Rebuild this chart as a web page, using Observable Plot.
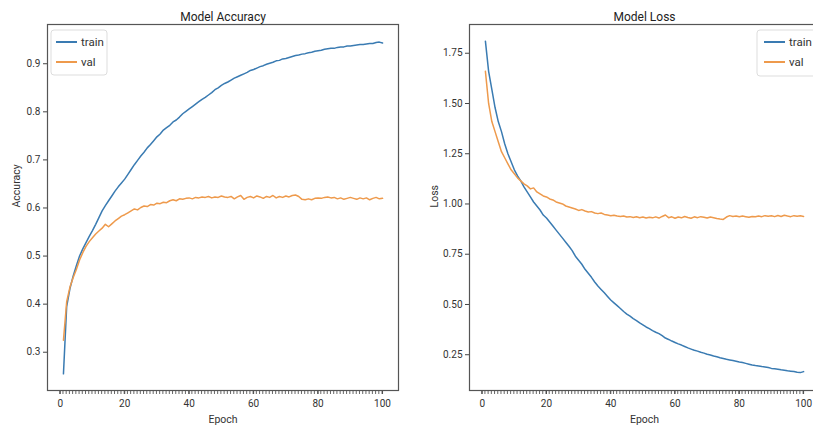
<!DOCTYPE html>
<html>
<head>
<meta charset="utf-8">
<script src="https://cdn.jsdelivr.net/npm/d3@7"></script>
<script src="https://cdn.jsdelivr.net/npm/@observablehq/plot@0.6"></script>
<style>
  html, body { margin: 0; padding: 0; background: #fff; overflow: hidden; }
  #wrap { position: relative; width: 813px; height: 433px; overflow: hidden; }
  #wrap > svg, #wrap > figure { position: absolute; top: 0; margin: 0; }
</style>
</head>
<body>
<div id="wrap"></div>
<script>
const seriesNames = ["train", "val"];
const accTrain = [
  0.255, 0.395, 0.432, 0.458, 0.480, 0.500, 0.515, 0.528, 0.541, 0.553,
  0.566, 0.580, 0.594, 0.605, 0.615, 0.625, 0.635, 0.644, 0.652, 0.660,
  0.670, 0.680, 0.690, 0.699, 0.708, 0.716, 0.725, 0.732, 0.740, 0.748,
  0.754, 0.762, 0.767, 0.772, 0.779, 0.783, 0.789, 0.796, 0.801, 0.806,
  0.811, 0.816, 0.821, 0.826, 0.830, 0.835, 0.840, 0.846, 0.850, 0.855,
  0.859, 0.862, 0.866, 0.870, 0.873, 0.876, 0.879, 0.882, 0.886, 0.888,
  0.891, 0.894, 0.896, 0.899, 0.901, 0.903, 0.906, 0.907, 0.910, 0.911,
  0.913, 0.915, 0.917, 0.918, 0.920, 0.921, 0.923, 0.924, 0.926, 0.927,
  0.928, 0.930, 0.931, 0.932, 0.932, 0.934, 0.935, 0.935, 0.937, 0.937,
  0.938, 0.939, 0.940, 0.940, 0.941, 0.942, 0.942, 0.944, 0.945, 0.943
];
const accVal = [
  0.325, 0.405, 0.435, 0.455, 0.472, 0.492, 0.507, 0.520, 0.530, 0.538,
  0.546, 0.552, 0.558, 0.566, 0.561, 0.567, 0.573, 0.578, 0.583, 0.586,
  0.590, 0.594, 0.598, 0.596, 0.601, 0.604, 0.603, 0.607, 0.606, 0.610,
  0.609, 0.612, 0.611, 0.615, 0.617, 0.615, 0.619, 0.618, 0.620, 0.621,
  0.619, 0.622, 0.621, 0.623, 0.622, 0.624, 0.621, 0.623, 0.622, 0.625,
  0.623, 0.622, 0.624, 0.619, 0.623, 0.626, 0.618, 0.622, 0.624, 0.621,
  0.625, 0.623, 0.620, 0.624, 0.622, 0.626, 0.621, 0.624, 0.622, 0.625,
  0.623, 0.626, 0.627, 0.624, 0.618, 0.617, 0.619, 0.617, 0.620, 0.621,
  0.620, 0.622, 0.623, 0.621, 0.622, 0.619, 0.621, 0.618, 0.620, 0.622,
  0.620, 0.618, 0.621, 0.619, 0.621, 0.617, 0.620, 0.622, 0.619, 0.620
];
const lossTrain = [
  1.810, 1.660, 1.570, 1.480, 1.410, 1.360, 1.300, 1.250, 1.210, 1.170,
  1.140, 1.115, 1.085, 1.060, 1.035, 1.010, 0.990, 0.970, 0.945, 0.930,
  0.910, 0.890, 0.870, 0.850, 0.830, 0.810, 0.790, 0.768, 0.740, 0.720,
  0.700, 0.675, 0.655, 0.635, 0.612, 0.592, 0.575, 0.558, 0.540, 0.522,
  0.508, 0.494, 0.480, 0.465, 0.452, 0.442, 0.430, 0.420, 0.408, 0.398,
  0.388, 0.380, 0.370, 0.362, 0.355, 0.345, 0.333, 0.326, 0.318, 0.311,
  0.304, 0.298, 0.291, 0.284, 0.278, 0.272, 0.268, 0.262, 0.258, 0.252,
  0.249, 0.244, 0.240, 0.235, 0.231, 0.227, 0.224, 0.221, 0.218, 0.214,
  0.211, 0.207, 0.203, 0.199, 0.196, 0.194, 0.191, 0.189, 0.186, 0.182,
  0.180, 0.178, 0.175, 0.173, 0.170, 0.168, 0.166, 0.163, 0.161, 0.166
];
const lossVal = [
  1.660, 1.500, 1.410, 1.360, 1.310, 1.260, 1.230, 1.200, 1.170, 1.150,
  1.130, 1.115, 1.100, 1.090, 1.075, 1.080, 1.060, 1.050, 1.040, 1.035,
  1.025, 1.020, 1.010, 1.005, 1.000, 0.990, 0.985, 0.980, 0.975, 0.968,
  0.972, 0.965, 0.960, 0.962, 0.955, 0.952, 0.955, 0.948, 0.945, 0.942,
  0.944, 0.940, 0.938, 0.940, 0.935, 0.937, 0.933, 0.936, 0.932, 0.935,
  0.930, 0.934, 0.931, 0.936, 0.930, 0.938, 0.945, 0.932, 0.936, 0.929,
  0.935, 0.931, 0.938, 0.933, 0.929, 0.936, 0.932, 0.937, 0.934, 0.930,
  0.935, 0.932, 0.928, 0.925, 0.923, 0.935, 0.942, 0.938, 0.940, 0.936,
  0.940, 0.937, 0.934, 0.938, 0.936, 0.940, 0.937, 0.942, 0.939, 0.941,
  0.937, 0.943, 0.938, 0.944, 0.940, 0.937, 0.942, 0.939, 0.941, 0.938
];
const epochs = accTrain.map((_, i) => i + 1);
const xMinorTicks = d3.range(0, 101);
const xLabelTicks = [0, 20, 40, 60, 80, 100];
const accTicks = [0.3, 0.4, 0.5, 0.6, 0.7, 0.8, 0.9];
const lossTicks = [0.25, 0.50, 0.75, 1.00, 1.25, 1.50, 1.75];
const colors = ["#3a7bb2", "#ee9a4c"];
const FONT = "Roboto, 'DejaVu Sans', sans-serif";

function table(train, val) {
  return [
    ...epochs.map((e, i) => ({epoch: e, value: train[i], series: "train"})),
    ...epochs.map((e, i) => ({epoch: e, value: val[i], series: "val"}))
  ];
}

function panel({data, yDomain, yTicks, yFormat, title, ylabel, ylabelDx, width, marginLeft, marginRight}) {
  const xDomain = [-3.95, 104.95];
  const xPx = d3.scaleLinear(xDomain, [marginLeft, width - marginRight]);
  const svg = Plot.plot({
    width, height: 433,
    marginLeft, marginRight, marginTop: 24, marginBottom: 43,
    style: {fontFamily: FONT, fontSize: "10px", color: "#333", background: "transparent", overflow: "visible"},
    x: {domain: xDomain, label: null},
    y: {domain: yDomain, label: null},
    color: {domain: seriesNames, range: colors},
    marks: [
      Plot.axisX({ticks: xLabelTicks, tickSize: 4, tickPadding: 5, tickFormat: d => String(d), stroke: "#444", fontSize: 10}),
      Plot.axisY({ticks: yTicks, tickSize: 4, tickPadding: 3, tickFormat: yFormat, stroke: "#444", fontSize: 10}),
      Plot.line(data, {x: "epoch", y: "value", z: "series", stroke: "series", strokeWidth: 1.5}),
      Plot.frame({stroke: "#555", strokeWidth: 1.2}),
      Plot.text([title], {frameAnchor: "top", dy: -12, fontSize: 12, fill: "#222"}),
      Plot.text(["Epoch"], {frameAnchor: "bottom", dy: 32, fontSize: 10.5, fill: "#333"}),
      Plot.text([ylabel], {frameAnchor: "left", dx: ylabelDx, rotate: -90, fontSize: 10.5, fill: "#333"})
    ]
  });
  // minor ticks at every epoch, placed with the plot's x scale
  let xs = null;
  try { xs = svg.scale("x"); } catch (e) { xs = null; }
  const toPx = (xs && typeof xs.apply === "function") ? (t => xs.apply(t)) : (t => xPx(t));
  const bottom = 433 - 43;
  const ns = "http://www.w3.org/2000/svg";
  const gt = document.createElementNS(ns, "g");
  gt.setAttribute("stroke", "#555");
  gt.setAttribute("stroke-width", "0.9");
  xMinorTicks.forEach(t => {
    let px = toPx(t);
    if (!isFinite(px)) px = xPx(t);
    const ln = document.createElementNS(ns, "line");
    ln.setAttribute("x1", px); ln.setAttribute("x2", px);
    ln.setAttribute("y1", bottom); ln.setAttribute("y2", bottom + 4);
    gt.appendChild(ln);
  });
  svg.appendChild(gt);
  return svg;
}

const wrap = document.getElementById("wrap");

const left = panel({
  data: table(accTrain, accVal),
  yDomain: [0.2204, 0.9816], yTicks: accTicks, yFormat: d3.format(".1f"),
  title: "Model Accuracy", ylabel: "Accuracy", ylabelDx: -31,
  width: 405, marginLeft: 47, marginRight: 7
});
left.style.left = "0px";
wrap.appendChild(left);

const right = panel({
  data: table(lossTrain, lossVal),
  yDomain: [0.072, 1.893], yTicks: lossTicks, yFormat: d3.format(".2f"),
  title: "Model Loss", ylabel: "Loss", ylabelDx: -35,
  width: 420, marginLeft: 64, marginRight: 6
});
right.style.left = "405px";
wrap.appendChild(right);

// legends
function legend(svg, bx, by, bw, bh, lx) {
  const g = d3.select(svg).append("g").attr("font-family", FONT).attr("font-size", 11.5).attr("text-anchor", "start");
  g.append("rect").attr("x", bx).attr("y", by).attr("width", bw).attr("height", bh)
    .attr("rx", 3).attr("fill", "#fff").attr("fill-opacity", 0.8).attr("stroke", "#ddd").attr("stroke-width", 1);
  seriesNames.forEach((name, i) => {
    const y = by + 12 + i * 20;
    g.append("line").attr("x1", lx).attr("x2", lx + 21).attr("y1", y).attr("y2", y)
      .attr("stroke", colors[i]).attr("stroke-width", 2);
    g.append("text").attr("x", lx + 25).attr("y", y).attr("dy", "0.35em").attr("fill", "#333")
      .attr("text-anchor", "start").text(name);
  });
}
legend(left, 51, 30, 56, 45, 56);
legend(right, 352, 30, 60, 46, 359);
</script>
</body>
</html>
